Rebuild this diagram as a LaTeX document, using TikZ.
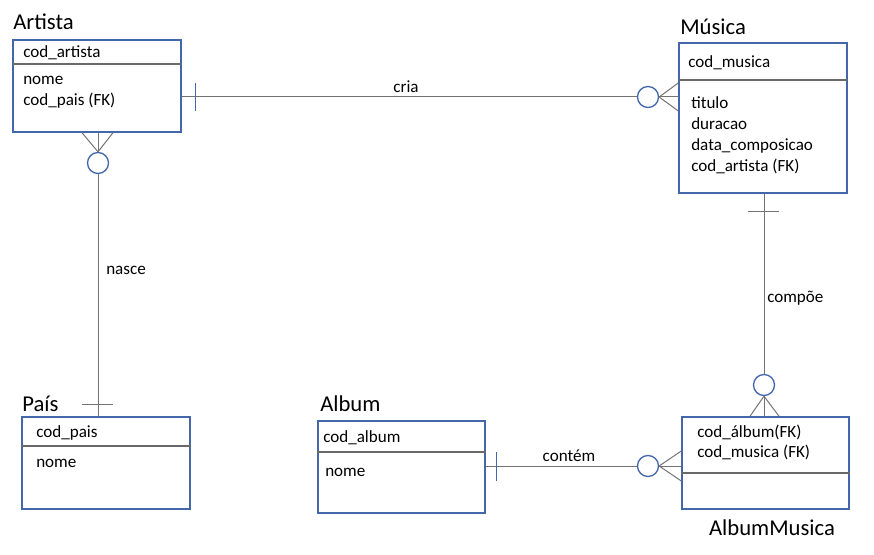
\documentclass[tikz,border=0pt]{standalone}
\usepackage{fontspec}
\setmainfont{Carlito}
\usetikzlibrary{
  positioning,
  calc,
  fit}
\definecolor{boxcolor}{RGB}{68,103,172}
\definecolor{linecolor}{RGB}{115,115,115}
\definecolor{divcolor}{RGB}{105,105,105}
\tikzset{
  %% entity : the frame of a table
  entity/.style={
    rectangle,
    draw=boxcolor,
    line width=1.1pt,
    inner sep=0pt
  },
  %% divider : line below the key
  divider/.style={divcolor, line width=0.8pt},
  %% title : name of a table
  title/.style={
    font=\fontsize{17}{20}\selectfont,
    inner sep=0pt,
    anchor=base west
  },
  %% attr : a column (and the relation names)
  attr/.style={
    font=\fontsize{12.8}{15}\selectfont,
    inner sep=0pt,
    anchor=base west
  },
  %% conn : connection between two tables
  conn/.style={linecolor, line width=0.75pt},
  %% optional : the "zero" circle
  optional/.style={
    circle,
    draw=boxcolor,
    line width=1pt,
    fill=white,
    minimum size=15.75pt,
    inner sep=0pt
  },
  %% onemark : the "one" tick
  onemark/.style={line width=0.75pt}
}

\begin{document}
\begin{tikzpicture}
  [x=0.75pt,
  y=-0.75pt]

  \useasboundingbox (0,0) rectangle (874,555);

  %% Grid for orientation.
  % \draw[help lines, green](0, 0) grid[step=50] (874, 555);

  %% Tables
  \node (artista) [entity, fit={(13,40) (181,132)}]{};
  \draw [divider] (artista.west |- 0,64) -- (artista.east |- 0,64);
  \node [title] at (13,30) {Artista};
  \node [attr] at (23,58) {cod\_artista};
  \node [attr] at (23,85) {nome};
  \node [attr] at (23,106) {cod\_pais (FK)};

  \node (musica) [entity, fit={(679,43) (847,193)}]{};
  \draw [divider] (musica.west |- 0,80) -- (musica.east |- 0,80);
  \node [title] at (680,35) {Música};
  \node [attr] at (688,68) {cod\_musica};
  \node [attr] at (691,109) {titulo};
  \node [attr] at (691,130) {duracao};
  \node [attr] at (691,151) {data\_composicao};
  \node [attr] at (691,172) {cod\_artista (FK)};

  \node (pais) [entity, fit={(22,417) (190,509)}]{};
  \draw [divider] (pais.west |- 0,446) -- (pais.east |- 0,446);
  \node [title] at (22,412) {País};
  \node [attr] at (36,437) {cod\_pais};
  \node [attr] at (36,467) {nome};

  \node (album) [entity, fit={(318,421) (485,513)}]{};
  \draw [divider] (album.west |- 0,452) -- (album.east |- 0,452);
  \node [title] at (320,412) {Album};
  \node [attr] at (323,443) {cod\_album};
  \node [attr] at (325,476) {nome};

  \node (albummusica) [entity, fit={(682,417) (849,509)}]{};
  \draw [divider] (albummusica.west |- 0,473) -- (albummusica.east |- 0,473);
  \node [title, anchor=base] at (772,535) {AlbumMusica};
  \node [attr] at (697,437) {cod\_álbum(FK)};
  \node [attr] at (697,458) {cod\_musica (FK)};

  %% Artista -- Musica
  \node (optcria) [optional] at (648,97) {};
  \draw [conn] (artista.east |- optcria) -- (optcria.west);
  \draw [conn] (optcria.east) -- (musica.west |- optcria);
  \draw [conn] (optcria.east) -- ($(musica.west |- optcria)+(0,-14)$);
  \draw [conn] (optcria.east) -- ($(musica.west |- optcria)+(0,14)$);
  \draw [onemark, boxcolor] ($(artista.east |- optcria)+(14,-14)$) -- ++(0,28);
  \node [attr, anchor=center] at (406,87) {cria};

  %% Artista -- Pais
  \node (optnasce) [optional] at (98,163) {};
  \draw [conn] (optnasce.south) -- (pais.north -| optnasce);
  \draw [conn] (optnasce.north) -- (artista.south -| optnasce);
  \draw [conn] (optnasce.north) -- ($(artista.south -| optnasce)+(-16,0)$);
  \draw [conn] (optnasce.north) -- ($(artista.south -| optnasce)+(15,0)$);
  \draw [onemark, linecolor] ($(pais.north -| optnasce)+(-16,-12)$) -- ++(31,0);
  \node [attr] at (106,275) {nasce};

  %% Musica -- AlbumMusica
  \node (optcompoe) [optional] at (764,385) {};
  \draw [conn] (musica.south -| optcompoe) -- (optcompoe.north);
  \draw [conn] (optcompoe.south) -- (albummusica.north -| optcompoe);
  \draw [conn] (optcompoe.south) -- ($(albummusica.north -| optcompoe)+(-14,0)$);
  \draw [conn] (optcompoe.south) -- ($(albummusica.north -| optcompoe)+(15,0)$);
  \draw [onemark, linecolor] ($(musica.south -| optcompoe)+(-16,18)$) -- ++(31,0);
  \node [attr] at (767,303) {compõe};

  %% Album -- AlbumMusica
  \node (optcontem) [optional] at (648,466) {};
  \draw [conn] (album.east |- optcontem) -- (optcontem.west);
  \draw [conn] (optcontem.east) -- (albummusica.west |- optcontem);
  \draw [conn] (optcontem.east) -- ($(albummusica.west |- optcontem)+(0,-15)$);
  \draw [conn] (optcontem.east) -- ($(albummusica.west |- optcontem)+(0,15)$);
  \draw [onemark, boxcolor] ($(album.east |- optcontem)+(11,-14)$) -- ++(0,29);
  \node [attr, anchor=center] at (569,456) {contém};

\end{tikzpicture}
\end{document}
